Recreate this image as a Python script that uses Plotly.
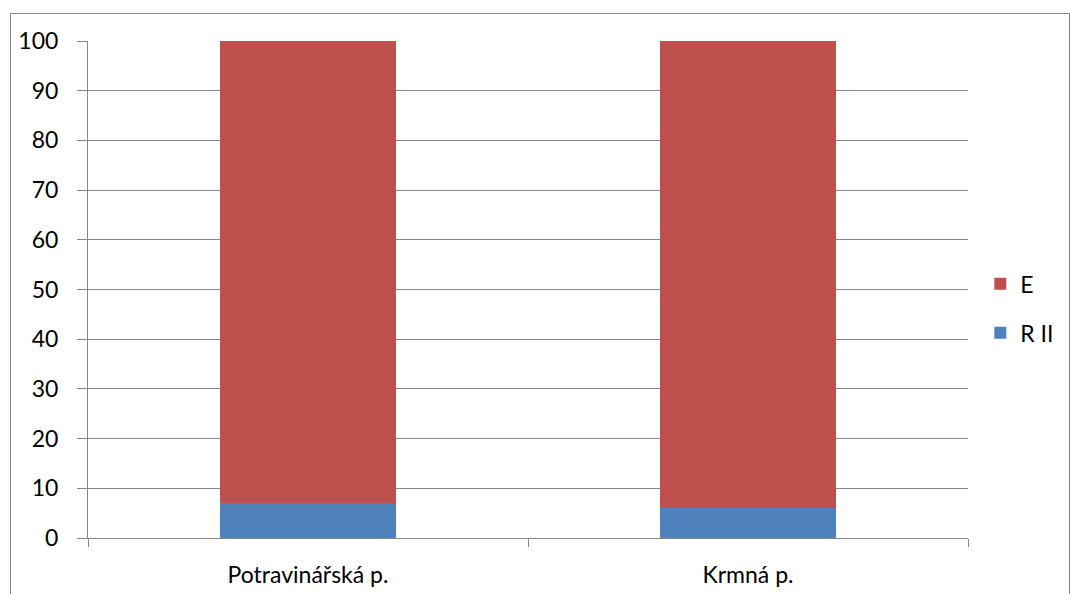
import plotly.graph_objects as go

categories = ["Potravinářská p.", "Krmná p."]
r_ii = [7.1, 6.1]
e_vals = [92.9, 93.9]

RED = "#C0504D"
BLUE = "#4F81BD"
GRID = "#868686"
FONT = "Lato, 'Open Sans', sans-serif"

fig = go.Figure()
fig.add_trace(go.Bar(name="R II", x=categories, y=r_ii, marker=dict(color=BLUE, line=dict(width=0)),
                     legendgroup="rii", legendrank=2, width=0.4))
fig.add_trace(go.Bar(name="E", x=categories, y=e_vals, marker=dict(color=RED, line=dict(width=0)),
                     legendgroup="e", legendrank=1, width=0.4))

fig.update_layout(
    width=1070, height=594,
    barmode="stack",
    plot_bgcolor="white", paper_bgcolor="white",
    margin=dict(l=88, r=102, t=41, b=56, autoexpand=False),
    font=dict(family=FONT, size=23, color="black"),
    legend=dict(x=1.014, y=0.462, xanchor="left", yanchor="middle",
                traceorder="grouped", tracegroupgap=16,
                font=dict(size=23), itemwidth=30),
    showlegend=True,
)
fig.update_xaxes(type="category", showline=True, linecolor=GRID, linewidth=1,
                 ticks="outside", tickson="boundaries", ticklen=8, tickcolor=GRID,
                 showgrid=False, ticklabelstandoff=16, automargin=False)
fig.update_yaxes(range=[0, 100], dtick=10, showline=True, linecolor=GRID, linewidth=1,
                 ticks="outside", ticklen=10, tickcolor=GRID,
                 showgrid=True, gridcolor=GRID, gridwidth=1, zeroline=False,
                 ticklabelstandoff=14, automargin=False)

# outer chart frame
fig.add_shape(type="rect", xref="paper", yref="paper",
              x0=(10.5 - 88) / 880, x1=(1069.5 - 88) / 880,
              y0=-0.3, y1=1 + (41 - 13.5) / 497,
              line=dict(color=GRID, width=1), fillcolor="rgba(0,0,0,0)", layer="below")

fig.write_html("out.html")
